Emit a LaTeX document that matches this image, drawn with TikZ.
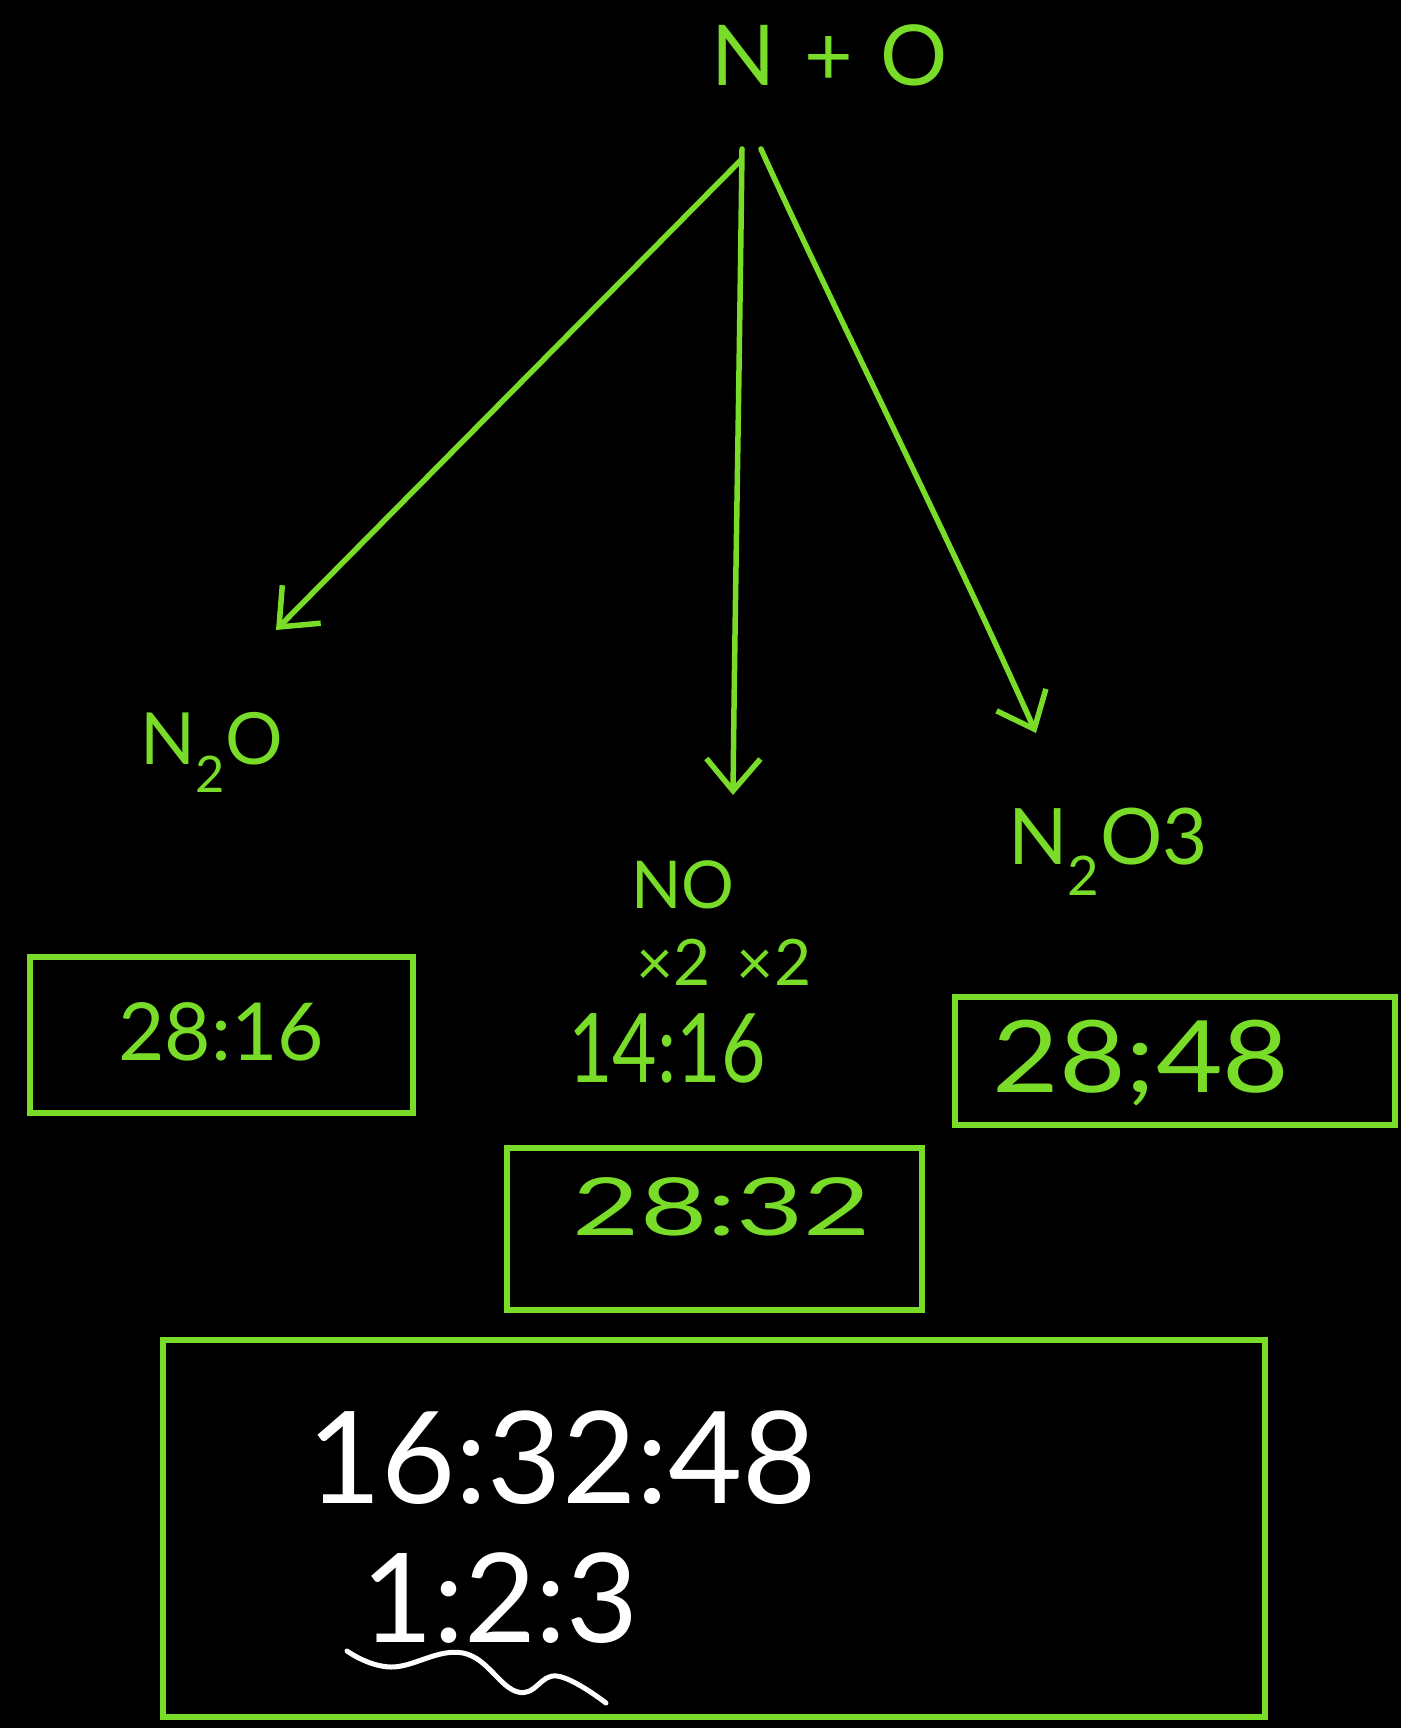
\documentclass[tikz,border=0pt]{standalone}
\usepackage{fontspec}
\setmainfont{Lato}
\usetikzlibrary{arrows.meta}
\definecolor{hgreen}{RGB}{120,220,40}
\tikzset{
  ink/.style={draw=hgreen, line width=5.5pt, line cap=round, line join=round},
  arr/.style={ink, -{Straight Barb[length=32pt,width=54pt,line width=5.5pt]}},
  lbl/.style={text=hgreen, inner sep=0pt, anchor=center},
  wlbl/.style={text=white, inner sep=0pt, anchor=center},
  frame/.style={draw=hgreen, line width=6pt}
}
\newcommand{\fs}[1]{\fontsize{#1}{#1}\selectfont}
\begin{document}
\begin{tikzpicture}[x=1pt,y=-1pt]
\fill[black] (0,0) rectangle (1401,1728);
\useasboundingbox (0,0) rectangle (1401,1728);

% top
\node[lbl] (top) at (830,55) {\fs{84}N\,\,+\,\,O};
\coordinate (srcL) at (741,160);
\coordinate (srcM) at (742,149);
\coordinate (srcR) at (761,149);
\coordinate (tipL) at (276,630);
\coordinate (tipM) at (733,795);
\coordinate (tipR) at (1036,733);

\draw[arr] (srcL) -- (tipL);
\draw[arr] (srcM) .. controls (739,400) and (735,600) .. (tipM);
\draw[arr] (srcR) .. controls (820,280) and (950,540) .. (tipR);

% products
\node[lbl] (n2o) at (212,752) {\fs{72}N\textsubscript{2}O};
\node[lbl] (no) at (683,885) {\fs{66}NO};
\node[lbl] (x2) at (724,962) {\fs{64}×2\hspace{26pt}×2};
\node[lbl] (r1416) at (667,1048) {\fs{96}\scalebox{0.8}[1]{14:16}};
\node[lbl] (n2o3) at (1108,852) {\fs{78}N\textsubscript{2}O3};

% boxes
\draw[frame] (30,957) rectangle (413,1113);
\node[lbl] (r2816) at (221,1032) {\fs{80}28:16};

\draw[frame] (955,997) rectangle (1395,1125);
\node[lbl] (r2848) at (1141,1063) {\fs{100}\scalebox{1.15}[1]{28;48}};

\draw[frame] (507,1148) rectangle (922,1310);
\node[lbl] (r2832) at (722,1207) {\fs{80}\scalebox{1.45}[1]{28:32}};

\draw[frame] (163,1340) rectangle (1265,1717);
\node[wlbl] (r163248) at (562,1458) {\fs{128}16:32:48};
\node[wlbl] (r123) at (500,1598) {\fs{124}1:2:3};
\draw[white, line width=5pt, line cap=round, line join=round]
  plot[smooth, tension=0.7] coordinates {(347,1651) (391,1667) (463,1653) (518,1692) (557,1676) (606,1703)};
\end{tikzpicture}
\end{document}
